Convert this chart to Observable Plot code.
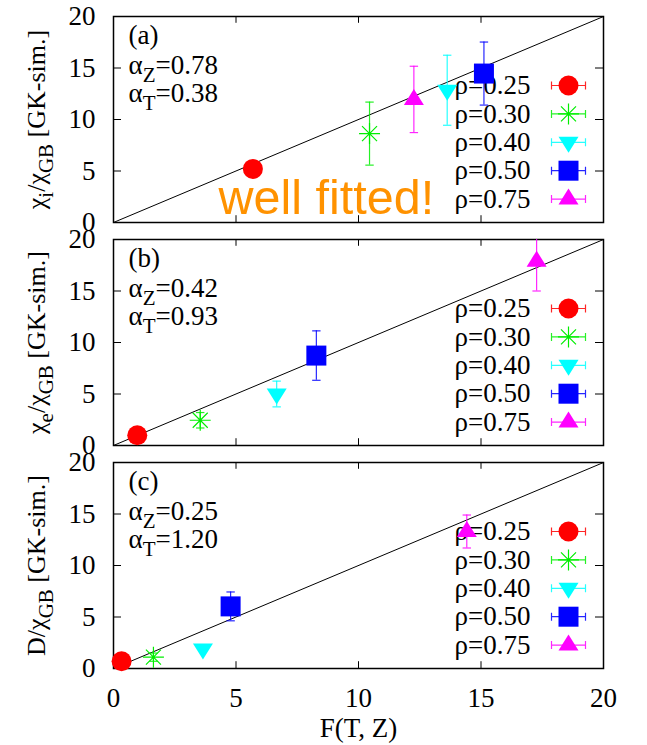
<!DOCTYPE html>
<html><head><meta charset="utf-8">
<script src="https://cdn.jsdelivr.net/npm/d3@7"></script>
<script src="https://cdn.jsdelivr.net/npm/@observablehq/plot@0.6"></script>
<style>
body{margin:0;background:#fff;}
#chart svg{overflow:visible;}
#chart svg text{font-family:"Liberation Serif","Times New Roman",serif;}
</style></head><body><div id="chart"></div>
<script>
// ---- data ----
const panels = ["a", "b", "c"];
const panelTags = ["(a)", "(b)", "(c)"];
const alphaZ = ["0.78", "0.42", "0.25"];
const alphaT = ["0.38", "0.93", "1.20"];
const yLabels = ["χ_{i}/χ_{GB} [GK-sim.]", "χ_{e}/χ_{GB} [GK-sim.]", "D/χ_{GB} [GK-sim.]"];
const xLabel = "F(T, Z)";
const rhoLabels = ["ρ=0.25", "ρ=0.30", "ρ=0.40", "ρ=0.50", "ρ=0.75"];
const seriesColors = ["#ff0000", "#00ee00", "#00ffff", "#0000ff", "#ff00ff"];
const xTicks = [0, 5, 10, 15, 20];
const yTicks = [0, 5, 10, 15, 20];
const diagonal = [0, 20];
const annotation = "well fitted!";
// panel (a): chi_i
const fA = [5.69, 10.45, 13.62, 15.12, 12.26];
const vA = [5.2, 8.63, 12.84, 14.46, 11.95];
const eA = [0.3, 3.06, 3.4, 3.06, 3.22];
// panel (b): chi_e
const fB = [0.97, 3.54, 6.66, 8.28, 17.27];
const vB = [1.0, 2.45, 5.0, 8.73, 17.9];
const eB = [0.3, 0.75, 1.25, 2.4, 2.9];
// panel (c): D
const fC = [0.33, 1.63, 3.65, 4.78, 14.42];
const vC = [0.7, 1.1, 1.9, 6.03, 13.3];
const eC = [0.2, 0.4, 0.2, 1.4, 1.6];

const F = [fA, fB, fC], V = [vA, vB, vC], E = [eA, eB, eC];
const points = panels.flatMap((p, k) => rhoLabels.map((r, i) => ({panel: p, i, x: F[k][i], y: V[k][i], err: E[k][i]})));

// ---- symbols (styles) ----
const symCircle = {draw(c) { c.moveTo(10, 0); c.arc(0, 0, 10, 0, 2 * Math.PI); c.closePath(); }};
const symSquare = {draw(c) { c.moveTo(-10, -10); c.lineTo(10, -10); c.lineTo(10, 10); c.lineTo(-10, 10); c.closePath(); }};
const symTriUp = {draw(c) { c.moveTo(0, -10.5); c.lineTo(10, 5.5); c.lineTo(-10, 5.5); c.closePath(); }};
const symTriDown = {draw(c) { c.moveTo(0, 10.5); c.lineTo(10, -5.5); c.lineTo(-10, -5.5); c.closePath(); }};
const symStar = {draw(c) { const r = 10.5, d = 7.5; c.moveTo(-r, 0); c.lineTo(r, 0); c.moveTo(0, -r); c.lineTo(0, r); c.moveTo(-d, -d); c.lineTo(d, d); c.moveTo(-d, d); c.lineTo(d, -d); }};
const symCap = {draw(c) { c.moveTo(-4.2, 0); c.lineTo(4.2, 0); }};
const symLegendBar = {draw(c) { c.moveTo(-17, 0); c.lineTo(17, 0); c.moveTo(-17, -4); c.lineTo(-17, 4); c.moveTo(17, -4); c.lineTo(17, 4); }};
const seriesSymbols = [symCircle, symStar, symTriDown, symSquare, symTriUp];

const W = 647, H = 745, mL = 113, mR = 44, mT = 15, mB = 75;
const padIn = 0.0745;
const FH = (H - mT - mB) / (3 - padIn) * (1 - padIn);
const FW = W - mL - mR;
const serif = "Liberation Serif";
const FS = 27;

const marks = [];
// frame and inward ticks
marks.push(Plot.frame({stroke: "black", strokeWidth: 1.5}));
marks.push(Plot.tickX(xTicks, {x: d => d, insetTop: FH - 8, stroke: "black"}));
marks.push(Plot.tickX(xTicks, {x: d => d, insetBottom: FH - 8, stroke: "black"}));
marks.push(Plot.tickY(yTicks, {y: d => d, insetRight: FW - 8, stroke: "black"}));
marks.push(Plot.tickY(yTicks, {y: d => d, insetLeft: FW - 8, stroke: "black"}));
// axes
marks.push(Plot.axisY({ticks: yTicks, tickSize: 0, tickPadding: 18, fontSize: FS, fontFamily: serif, fontVariant: "normal", label: null}));
marks.push(Plot.axisX({ticks: xTicks, tickSize: 0, tickPadding: 19, fontSize: FS, fontFamily: serif, fontVariant: "normal", label: null}));
// diagonal y = x
marks.push(Plot.line(diagonal.map(v => [v, v]), {stroke: "black", strokeWidth: 1, clip: true}));
// error bars and markers
seriesSymbols.forEach((sym, i) => {
  const pts = points.filter(d => d.i === i);
  const col = seriesColors[i];
  marks.push(Plot.ruleX(pts, {x: "x", y1: d => d.y - d.err, y2: d => d.y + d.err, fy: "panel", stroke: col, strokeWidth: 1.2, strokeOpacity: 0.85, clip: true}));
  marks.push(Plot.dot(pts, {x: "x", y: d => d.y - d.err, fy: "panel", symbol: symCap, stroke: col, fill: "none", strokeWidth: 1.2, strokeOpacity: 0.85, clip: true}));
  marks.push(Plot.dot(pts, {x: "x", y: d => d.y + d.err, fy: "panel", symbol: symCap, stroke: col, fill: "none", strokeWidth: 1.2, strokeOpacity: 0.85, clip: true}));
  marks.push(Plot.dot(pts, {x: "x", y: "y", fy: "panel", symbol: sym,
    fill: i === 1 ? "none" : col, stroke: i === 1 ? col : "none", strokeWidth: 1.2}));
  // legend row (repeated in every panel)
  const dy = 69 + 28.4 * i;
  marks.push(Plot.text([rhoLabels[i]], {x: null, y: null, text: d => d, frameAnchor: "top-right", dx: -73, dy, lineAnchor: "middle", textAnchor: "end", fontSize: FS, fontFamily: serif}));
  marks.push(Plot.dot([rhoLabels[i]], {x: null, y: null, frameAnchor: "top-right", dx: -35, dy, symbol: symLegendBar, stroke: col, fill: "none", strokeWidth: 1.2, strokeOpacity: 0.85}));
  marks.push(Plot.dot([rhoLabels[i]], {x: null, y: null, frameAnchor: "top-right", dx: -35, dy, symbol: sym,
    fill: i === 1 ? "none" : col, stroke: i === 1 ? col : "none", strokeWidth: 1.2}));
});
// panel annotations
marks.push(Plot.text(panels, {x: null, y: null, fy: d => d, text: (d, k) => panelTags[k], frameAnchor: "top-left", dx: 15, dy: 27, lineAnchor: "bottom", textAnchor: "start", fontSize: FS, fontFamily: serif}));
marks.push(Plot.text(panels, {x: null, y: null, fy: d => d, text: (d, k) => "α_{Z}=" + alphaZ[k], frameAnchor: "top-left", dx: 15, dy: 57, lineAnchor: "bottom", textAnchor: "start", fontSize: FS, fontFamily: serif}));
marks.push(Plot.text(panels, {x: null, y: null, fy: d => d, text: (d, k) => "α_{T}=" + alphaT[k], frameAnchor: "top-left", dx: 15, dy: 85, lineAnchor: "bottom", textAnchor: "start", fontSize: FS, fontFamily: serif}));
// y labels
marks.push(Plot.text(panels, {x: null, y: null, fy: d => d, text: (d, k) => yLabels[k], frameAnchor: "left", dx: -77, rotate: -90, lineAnchor: "middle", textAnchor: "middle", fontSize: 26, fontFamily: serif}));
// x label
marks.push(Plot.text([xLabel], {x: null, y: null, fy: ["c"], text: d => d, frameAnchor: "bottom", dy: 68, lineAnchor: "bottom", textAnchor: "middle", fontSize: FS, fontFamily: serif}));
// "well fitted!" note
marks.push(Plot.text([annotation], {x: null, y: null, fy: ["a"], text: d => d, frameAnchor: "bottom-left", dx: 105, dy: -8.7, lineAnchor: "bottom", textAnchor: "start", fontSize: 48.5, fontFamily: "Liberation Sans", fill: "#ff9200"}));

const chart = Plot.plot({
  width: W, height: H,
  marginLeft: mL, marginRight: mR, marginTop: mT, marginBottom: mB,
  style: {fontFamily: "'Liberation Serif', serif", fontSize: FS + "px", background: "transparent", color: "black", overflow: "visible"},
  x: {domain: [0, 20], label: null},
  y: {domain: [0, 20], label: null},
  fy: {domain: panels, axis: null, paddingInner: padIn, paddingOuter: 0, label: null},
  marks
});

// sans-serif font for the orange note
d3.select(chart).selectAll("text")
  .filter(function() { return this.textContent === annotation; })
  .style("font-family", "'Liberation Sans', Arial, sans-serif");

// rich text: turn _{...} into subscripts
d3.select(chart).selectAll("text").each(function() {
  const s = this.textContent;
  if (!s.includes("_{")) return;
  const parts = s.split(/_\{([^}]*)\}/);
  const el = d3.select(this);
  el.text(null);
  parts.forEach((p, j) => {
    if (!p) return;
    const t = el.append("tspan").text(p);
    if (j % 2 === 1) {
      t.attr("font-size", "21px").attr("dy", "8px");
    } else if (j > 0) {
      t.attr("dy", "-8px");
    }
  });
});

document.getElementById("chart").appendChild(chart);
</script>
</body></html>
